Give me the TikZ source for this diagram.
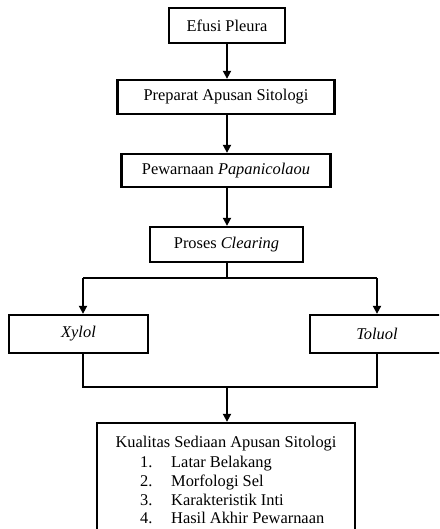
\documentclass[tikz,border=0pt]{standalone}
\usepackage{fontspec}
\setmainfont{Liberation Serif}
\usetikzlibrary{arrows.meta}
\begin{document}
\begin{tikzpicture}[x=1pt,y=-1pt,
  every node/.style={font=\fontsize{16.4}{19}\selectfont, inner sep=0pt},
  box/.style={draw, line width=2.3pt, rectangle, anchor=center},
  arr/.style={line width=1.8pt, -{Triangle[length=8pt,width=8pt]}},
  ln/.style={line width=1.8pt}]
\useasboundingbox (0,0) rectangle (439,529);
\fill[white] (0,0) rectangle (439,529);
\clip (0,0) rectangle (439,529);
\node[box, minimum width=116pt, minimum height=35pt] (efusi) at (227,25.5) {Efusi Pleura};
\node[box, minimum width=217pt, minimum height=34pt] (prep) at (226,97) {Preparat Apusan Sitologi};
\node[box, minimum width=209pt, minimum height=33pt] (pew) at (226,170.5) {Pewarnaan \textit{Papanicolaou}};
\node[box, minimum width=153pt, minimum height=35pt] (proses) at (226.5,244.5) {Proses \textit{Clearing}};
\node[box, minimum width=139pt, minimum height=38pt] (xylol) at (78.5,334) {\textit{Xylol}};
\node[box, minimum width=140pt, minimum height=38pt] (toluol) at (380,334) {};
\node (toluoltxt) at (377,334) {\textit{Toluol}};
\node[box, minimum width=258pt, minimum height=130pt] (final) at (226,488) {};
\node[anchor=base] (t0) at (226,447) {Kualitas Sediaan Apusan Sitologi};
\node[anchor=base west] (n1) at (140,467) {1.};
\node[anchor=base west] (i1) at (171,467) {Latar Belakang};
\node[anchor=base west] (n2) at (140,486) {2.};
\node[anchor=base west] (i2) at (171,486) {Morfologi Sel};
\node[anchor=base west] (n3) at (140,505) {3.};
\node[anchor=base west] (i3) at (171,505) {Karakteristik Inti};
\node[anchor=base west] (n4) at (140,523) {4.};
\node[anchor=base west] (i4) at (171,523) {Hasil Akhir Pewarnaan};
\coordinate (bl) at (83,278);
\coordinate (br) at (377,278);
\coordinate (jn) at (227,387);
\draw[arr] (efusi.south -| jn) -- (prep.north -| jn);
\draw[arr] (prep.south -| jn) -- (pew.north -| jn);
\draw[arr] (pew.south -| jn) -- (proses.north -| jn);
\draw[ln] (proses.south -| jn) -- (bl -| jn);
\draw[ln] (bl) -- (br);
\draw[arr] (bl) -- (bl |- xylol.north);
\draw[arr] (br) -- (br |- toluol.north);
\draw[ln] (bl |- xylol.south) -- (bl |- jn) -- (br |- jn) -- (br |- toluol.south);
\draw[arr] (jn) -- (final.north -| jn);
\end{tikzpicture}
\end{document}
